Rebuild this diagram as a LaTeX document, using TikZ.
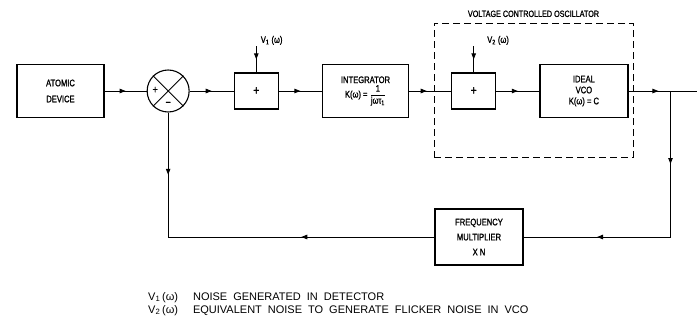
\documentclass[tikz,border=0pt]{standalone}
\usepackage{amsmath}
\usepackage{fontspec}
\setmainfont{Liberation Sans}
\newfontfamily\lblfont[FakeStretch=0.8,FakeBold=1.2]{Liberation Sans}
\usetikzlibrary{positioning,arrows.meta,decorations.markings,calc}

\begin{document}
\begin{tikzpicture}[
      x=1pt, y=-1pt,
      font=\lblfont\fontsize{9.5}{11}\selectfont,
      box/.style={draw, line width=1.2pt, inner sep=0pt, align=center},
      sumbox/.style={box, minimum width=44pt, minimum height=36pt, font=\lblfont\fontsize{13}{13}\selectfont},
      line/.style={line width=0.9pt},
      midarrow/.style={line, postaction={decorate}, decoration={markings,
          mark=at position #1 with {\arrow{Triangle[length=6pt,width=4.5pt]}}}},
      midarrow/.default=0.5,
      node distance=43pt,
    ]
      \useasboundingbox (0,0) rectangle (699,322);

      % forward path
      \node[box, minimum width=87pt, minimum height=53pt] (atomic) at (60.5,91) {ATOMIC\\[5pt]DEVICE};
      \node[draw, circle, line width=1.1pt, minimum size=42pt, inner sep=0pt, right=42pt of atomic] (sum) {};
      \node[sumbox, right=44pt of sum] (addone) {+};
      \node[box, minimum width=86pt, minimum height=53pt, right=of addone] (integ) {INTEGRATOR\\[1pt]K(ω) = $\dfrac{\text{1}}{\text{jωτ\textsubscript{1}}}$};
      \node[sumbox, right=42pt of integ] (addtwo) {+};
      \node[box, minimum width=88pt, minimum height=53pt, right=of addtwo] (vco) {IDEAL\\VCO\\K(ω) = C};
      \coordinate (branch) at ($(vco.east)+(42,0)$);
      \coordinate (out) at ($(vco.east)+(68,0)$);

      % summing junction
      \draw[line] (sum.north west) -- (sum.south east);
      \draw[line] (sum.north east) -- (sum.south west);
      \node[font=\lblfont\fontsize{11}{11}\selectfont] (sumplus) at ($(sum.center)+(-13,-1)$) {+};
      \node[font=\lblfont\fontsize{11}{11}\selectfont] (summinus) at ($(sum.center)+(0,13)$) {−};

      % vco frame
      \node[draw, dashed, dash pattern=on 7pt off 4pt, line width=0.9pt, minimum width=199pt, minimum height=134pt, inner sep=0pt] (vcoframe) at (533.5,90) {};
      \node[font=\lblfont\fontsize{9}{10}\selectfont, above=2pt of vcoframe] (vcotitle) {VOLTAGE CONTROLLED OSCILLATOR};

      % feedback
      \node[box, minimum width=88pt, minimum height=56pt] (fmul) at (479,237) {FREQUENCY\\[4pt]MULTIPLIER\\[4pt]X N};
      \coordinate (rcorner) at (branch |- fmul);
      \coordinate (lcorner) at (sum |- fmul);

      % noise inputs
      \coordinate (vonein) at ($(addone.north)+(0,-26)$);
      \node[anchor=west] (vonelbl) at ($(vonein)+(1,-6)$) {V\textsubscript{1} (ω)};
      \coordinate (vtwoin) at ($(addtwo.north)+(0,-26)$);
      \node[anchor=west] (vtwolbl) at ($(vtwoin)+(10,-6)$) {V\textsubscript{2} (ω)};

      \draw[midarrow] (atomic) -- (sum);
      \draw[midarrow] (sum) -- (addone);
      \draw[midarrow] (addone) -- (integ);
      \draw[midarrow=0.42] (integ) -- (addtwo);
      \draw[midarrow] (addtwo) -- (vco);
      \draw[midarrow=0.44] (vco.east) -- (out);
      \draw[midarrow] (vonein) -- (addone.north);
      \draw[midarrow] (vtwoin) -- (addtwo.north);
      \draw[midarrow] (branch) -- (rcorner);
      \draw[midarrow] (rcorner) -- (fmul.east);
      \draw[midarrow] (fmul.west) -- (lcorner);
      \draw[midarrow] (sum.south) -- (lcorner);

      % legend
      \node[anchor=north west, inner sep=0pt, font=\fontsize{11}{13}\selectfont] (legend) at (148,291) {%
        \spaceskip=6pt
        \begin{tabular}{@{}l@{\hspace{15pt}}l@{}}
          V\textsubscript{1}\,(ω) & NOISE GENERATED IN DETECTOR\\
          V\textsubscript{2}\,(ω) & EQUIVALENT NOISE TO GENERATE FLICKER NOISE IN VCO
        \end{tabular}};
    \end{tikzpicture}
\end{document}
